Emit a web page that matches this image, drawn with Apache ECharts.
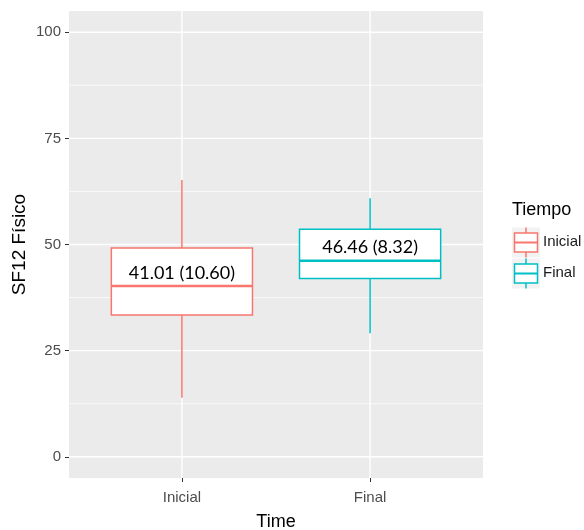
<!DOCTYPE html>
<html><head><meta charset="utf-8">
<script src="https://cdn.jsdelivr.net/npm/echarts@6/dist/echarts.min.js"></script>
<style>html,body{margin:0;padding:0;background:#fff}#c{width:584px;height:530px}</style>
</head><body><div id="c"></div>
<script>
// ---- data ----
const categories = ['Inicial', 'Final'];
const whiskerLow = [13.9, 29.1];
const q1 = [33.4, 42.0];
const median = [40.2, 46.2];
const q3 = [49.2, 53.6];
const whiskerHigh = [65.2, 60.9];
const meanLabels = ['41.01 (10.60)', '46.46 (8.32)'];
const yTicks = [0, 25, 50, 75, 100];
const yMinor = [12.5, 37.5, 62.5, 87.5];
const legendTitle = 'Tiempo';
const xTitle = 'Time';
const yTitle = 'SF12 Físico';

// ---- style ----
const colors = ['#F8766D', '#00BFC4'];
const panelBg = '#EBEBEB';
const tickColor = '#4D4D4D';

const chart = echarts.init(document.getElementById('c'), null, {renderer: 'canvas'});

const boxData = categories.map((c, i) => [i, whiskerLow[i], q1[i], median[i], q3[i], whiskerHigh[i]]);
// grid line items: [x, y, kind] kind 0 major-h, 1 minor-h, 2 vertical
const gridData = []
  .concat(yTicks.map(v => [0, v, 0]))
  .concat(yMinor.map(v => [0, v, 1]))
  .concat(categories.map((c, i) => [i, 50, 2]));

const option = {
  animation: false,
  backgroundColor: '#ffffff',
  grid: {
    left: 69, top: 11, width: 414, height: 467,
    outerBoundsMode: 'none', containLabel: false,
    show: true, backgroundColor: panelBg, borderWidth: 0
  },
  xAxis: {
    type: 'value', min: -0.6, max: 1.6,
    axisLine: {show: false, onZero: false},
    splitLine: {show: false},
    axisTick: {show: true, customValues: categories.map((c, i) => i), length: 4, lineStyle: {color: '#333333', width: 1}},
    axisLabel: {
      customValues: categories.map((c, i) => i),
      formatter: v => categories[Math.round(v)] || '',
      color: tickColor, fontFamily: 'Liberation Sans', fontSize: 15, margin: 12
    },
    name: xTitle, nameLocation: 'middle', nameGap: 35, nameMoveOverlap: false,
    nameTextStyle: {color: '#000000', fontFamily: 'Liberation Sans', fontSize: 18}
  },
  yAxis: {
    type: 'value', min: -5, max: 105,
    axisLine: {show: false, onZero: false},
    splitLine: {show: false},
    axisTick: {show: true, customValues: yTicks, length: 4, lineStyle: {color: '#333333', width: 1}},
    axisLabel: {
      customValues: yTicks,
      color: tickColor, fontFamily: 'Liberation Sans', fontSize: 15, margin: 8
    },
    name: yTitle, nameLocation: 'middle', nameGap: 40, nameMoveOverlap: false,
    nameTextStyle: {color: '#000000', fontFamily: 'Liberation Sans', fontSize: 19}
  },
  series: [
    {
      type: 'custom', name: 'grid', z: 1, silent: true,
      data: gridData,
      renderItem(params, api) {
        const cs = params.coordSys;
        const kind = api.value(2);
        const p = api.coord([api.value(0), api.value(1)]);
        if (kind === 2) {
          return {type: 'line', shape: {x1: p[0], y1: cs.y, x2: p[0], y2: cs.y + cs.height},
                  style: {stroke: '#ffffff', lineWidth: 1.4}};
        }
        return {type: 'line', shape: {x1: cs.x, y1: p[1], x2: cs.x + cs.width, y2: p[1]},
                style: {stroke: '#ffffff', lineWidth: kind === 0 ? 1.4 : 0.7}};
      }
    },
    {
      type: 'custom', name: 'box', z: 5, silent: true,
      data: boxData,
      renderItem(params, api) {
        const i = params.dataIndex;
        const x = api.value(0);
        const c = colors[i];
        const lo = api.coord([x, api.value(1)]);
        const b1 = api.coord([x - 0.375, api.value(2)]);
        const md = api.coord([x, api.value(3)]);
        const b3 = api.coord([x + 0.375, api.value(4)]);
        const hi = api.coord([x, api.value(5)]);
        const xl = b1[0], xr = b3[0];
        return {
          type: 'group',
          children: [
            {type: 'line', shape: {x1: lo[0], y1: lo[1], x2: lo[0], y2: b1[1]}, style: {stroke: c, lineWidth: 1.5}},
            {type: 'line', shape: {x1: hi[0], y1: b3[1], x2: hi[0], y2: hi[1]}, style: {stroke: c, lineWidth: 1.5}},
            {type: 'rect', shape: {x: xl, y: b3[1], width: xr - xl, height: b1[1] - b3[1]},
             style: {fill: '#ffffff', stroke: c, lineWidth: 1.5}},
            {type: 'line', shape: {x1: xl, y1: md[1], x2: xr, y2: md[1]}, style: {stroke: c, lineWidth: 2.5}},
            {type: 'text', x: md[0], y: md[1] - 4,
             style: {text: meanLabels[i], align: 'center', verticalAlign: 'bottom',
                     fill: '#000000', fontFamily: 'Lato', fontSize: 18}}
          ]
        };
      }
    }
  ],
  graphic: [
    {type: 'text', left: 512, top: 201, style: {text: legendTitle, fill: '#000000', fontFamily: 'Liberation Sans', fontSize: 18}},
    ...categories.map((c, i) => {
      const y0 = 225 + i * 31;
      return {
        type: 'group', left: 512, top: y0,
        children: [
          {type: 'rect', shape: {x: 0, y: 0, width: 28, height: 30}, style: {fill: '#F2F2F2'}},
          {type: 'line', shape: {x1: 14, y1: 0, x2: 14, y2: 30}, style: {stroke: colors[i], lineWidth: 1.5}},
          {type: 'rect', shape: {x: 2.5, y: 5.5, width: 23, height: 19}, style: {fill: '#ffffff', stroke: colors[i], lineWidth: 1.5}},
          {type: 'line', shape: {x1: 2.5, y1: 15, x2: 25.5, y2: 15}, style: {stroke: colors[i], lineWidth: 2}}
        ]
      };
    }),
    ...categories.map((c, i) => ({
      type: 'text', left: 543, top: 234 + i * 31,
      style: {text: c, fill: '#1A1A1A', fontFamily: 'Liberation Sans', fontSize: 15}
    }))
  ]
};
chart.setOption(option);
</script>
</body></html>
